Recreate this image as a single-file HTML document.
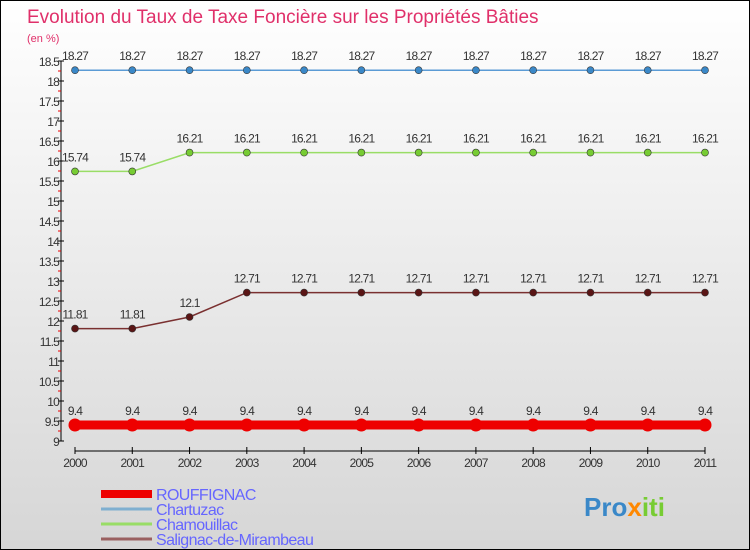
<!DOCTYPE html>
<html><head><meta charset="utf-8"><style>
body{margin:0}
#c{position:relative;width:748px;height:548px;border:1px solid #000;background:linear-gradient(#fff,#d6d6d6);overflow:hidden;font-family:"Liberation Sans",sans-serif}
</style></head><body>
<div id="c">
<svg id="s" width="748" height="548" xmlns="http://www.w3.org/2000/svg"></svg>
</div>
<script>
const years=["2000","2001","2002","2003","2004","2005","2006","2007","2008","2009","2010","2011"];
const rouffignac=[9.4,9.4,9.4,9.4,9.4,9.4,9.4,9.4,9.4,9.4,9.4,9.4];
const chartuzac=[18.27,18.27,18.27,18.27,18.27,18.27,18.27,18.27,18.27,18.27,18.27,18.27];
const chamouillac=[15.74,15.74,16.21,16.21,16.21,16.21,16.21,16.21,16.21,16.21,16.21,16.21];
const salignac=[11.81,11.81,12.1,12.71,12.71,12.71,12.71,12.71,12.71,12.71,12.71,12.71];
const yTicks=["9","9.5","10","10.5","11","11.5","12","12.5","13","13.5","14","14.5","15","15.5","16","16.5","17","17.5","18","18.5"];
const s=document.getElementById('s');const NS="http://www.w3.org/2000/svg";
function X(i){return 74+i*(630/11);}
function Y(v){return 440-(v-9)*40;}
function el(t,a,p){const e=document.createElementNS(NS,t);for(const k in a)e.setAttribute(k,a[k]);(p||s).appendChild(e);return e;}
let t=el('text',{x:26,y:22,fill:'#e0306a','font-size':19});t.textContent="Evolution du Taux de Taxe Foncière sur les Propriétés Bâties";


t=el('text',{x:26,y:41,fill:'#e0306a','font-size':11});t.textContent="(en %)";


let a=el('line',{x1:60,y1:Y(18.5),x2:60,y2:Y(9),stroke:'#000'});


yTicks.forEach(v=>{const y=Y(+v);
el('line',{x1:57,y1:y,x2:63,y2:y,stroke:'#000'});
if(+v<18.5){const m=el('line',{x1:57,y1:y-10,x2:60,y2:y-10,stroke:'#e00'});}
const tx=el('text',{x:58,y:y+5,'text-anchor':'end','font-size':12,fill:'#333','letter-spacing':'-0.8'});tx.textContent=v;

});
a=el('line',{x1:X(0),y1:450,x2:X(11),y2:450,stroke:'#000'});


years.forEach((yr,i)=>{el('line',{x1:X(i),y1:446,x2:X(i),y2:453,stroke:'#000'});
const tx=el('text',{x:X(i),y:466,'text-anchor':'middle','font-size':12,fill:'#333','letter-spacing':'-0.8'});tx.textContent=yr;

});
function series(d,col,w,r,dot,name){
const g=el('g',{});


el('polyline',{points:d.map((v,i)=>X(i)+','+Y(v)).join(' '),fill:'none',stroke:col,'stroke-width':w},g);
d.forEach((v,i)=>{const c=el('circle',{cx:X(i),cy:Y(v),r:r,fill:dot,stroke:'#333','stroke-width':r>4?0:0.6},g);


const tx=el('text',{x:X(i),y:Y(v)-10,'text-anchor':'middle','font-size':12,fill:'#333','letter-spacing':'-0.8'},g);tx.textContent=String(v);

});}
series(chartuzac,'#5b9bd5',1.5,3.5,'#3a88c8','chartuzac');
series(chamouillac,'#99dd66',1.5,3.5,'#77cc33','chamouillac');
series(salignac,'#7a3030',1.5,3.5,'#5a1515','salignac');
series(rouffignac,'#ee0000',9,6.5,'#ee0000','rouffignac');
const lg=[["ROUFFIGNAC","#ee0000",8],["Chartuzac","#7fafd0",3],["Chamouillac","#99dd66",3],["Salignac-de-Mirambeau","#9a6060",3]];
lg.forEach((l,i)=>{const y=493+i*15;const g=el('g',{});


el('line',{x1:100,y1:y,x2:151,y2:y,stroke:l[1],'stroke-width':l[2]},g);
const tx=el('text',{x:155,y:y+6,'font-size':16,fill:'#6666ff','letter-spacing':'-0.6'},g);tx.textContent=l[0];});
const lo=el('text',{x:583,y:515,'font-size':26,'font-weight':'bold',fill:'#3a88c8'});lo.innerHTML='Pro<tspan fill="#ff8800">x</tspan><tspan fill="#77cc33">iti</tspan>';


</script>
</body></html>
